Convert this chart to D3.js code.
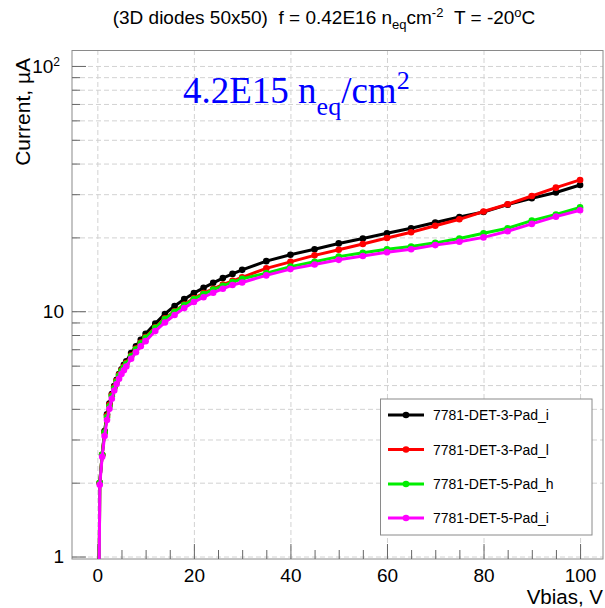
<!DOCTYPE html>
<html>
<head>
<meta charset="utf-8">
<script src="https://cdn.jsdelivr.net/npm/d3@7"></script>
<style>
  body { margin: 0; background: #fff; }
  text { font-family: "Liberation Sans", Arial, sans-serif; fill: #000; }
</style>
</head>
<body>
<script>
// bias voltage points (V)
const vbias = [0, 0.5, 1, 1.5, 2, 2.5, 3, 3.5, 4, 4.5, 5, 5.5, 6, 7, 8, 9, 10,
  12, 14, 16, 18, 20, 22, 24, 26, 28, 30,
  35, 40, 45, 50, 55, 60, 65, 70, 75, 80, 85, 90, 95, 100];

// currents (uA)
const det3PadI = [0.05, 2.0, 2.6, 3.25, 3.8, 4.2, 4.6, 4.95, 5.25, 5.55, 5.8, 6.05, 6.25, 6.75, 7.2, 7.65, 8.1,
  8.9, 9.75, 10.5, 11.2, 11.85, 12.45, 13.05, 13.65, 14.2, 14.75,
  16.0, 17.0, 17.9, 18.9, 19.8, 20.8, 21.8, 23.0, 24.2, 25.4, 27.2, 28.9, 30.5, 32.7];
const det3PadL = [0.05, 2.0, 2.6, 3.2, 3.75, 4.15, 4.55, 4.9, 5.2, 5.5, 5.75, 5.95, 6.15, 6.6, 7.05, 7.45, 7.85,
  8.6, 9.35, 10.0, 10.65, 11.3, 11.85, 12.35, 12.85, 13.3, 13.75,
  14.95, 15.9, 16.9, 17.8, 18.8, 19.9, 21.0, 22.3, 23.7, 25.5, 27.3, 29.5, 31.9, 34.3];
const det5PadH = [0.05, 2.0, 2.6, 3.2, 3.7, 4.1, 4.5, 4.85, 5.15, 5.45, 5.7, 5.9, 6.1, 6.55, 7.0, 7.4, 7.8,
  8.55, 9.3, 9.95, 10.6, 11.2, 11.75, 12.25, 12.7, 13.15, 13.55,
  14.3, 15.2, 15.9, 16.7, 17.3, 17.9, 18.35, 19.0, 19.8, 20.8, 21.8, 23.4, 24.8, 26.5];
const det5PadI = [0.05, 1.96, 2.55, 3.1, 3.6, 4.0, 4.4, 4.75, 5.05, 5.3, 5.55, 5.75, 5.95, 6.4, 6.8, 7.2, 7.55,
  8.3, 9.0, 9.65, 10.3, 10.9, 11.4, 11.9, 12.35, 12.8, 13.1,
  14.0, 14.85, 15.5, 16.2, 16.8, 17.4, 17.9, 18.6, 19.2, 20.0, 21.2, 22.7, 24.3, 25.8];

const seriesNames = ["7781-DET-3-Pad_i", "7781-DET-3-Pad_l", "7781-DET-5-Pad_h", "7781-DET-5-Pad_i"];
const seriesColors = ["#000000", "#ff0000", "#00ee00", "#ff00ff"];
const seriesValues = [det3PadI, det3PadL, det5PadH, det5PadI];

const xMajor = [0, 20, 40, 60, 80, 100];
const xMinor = [5, 10, 15, 25, 30, 35, 45, 50, 55, 65, 70, 75, 85, 90, 95];
const yMajor = [1, 10, 100];
const yMinor = [2, 3, 4, 5, 6, 7, 8, 9, 20, 30, 40, 50, 60, 70, 80, 90];

const W = 605, H = 608;
const frame = { left: 72, right: 603, top: 50.5, bottom: 559 };

const svg = d3.select("body").append("svg")
  .attr("width", W)
  .attr("height", H);

const x = d3.scaleLinear().domain([-5.25, 104.75]).range([frame.left, frame.right]);
const y = d3.scaleLog().domain([0.977, 115.6]).range([frame.bottom, frame.top]);

const fw = frame.right - frame.left, fh = frame.bottom - frame.top;

// grid
const gridStyle = (g) => {
  g.select(".domain").remove();
  g.selectAll("line").attr("stroke", "#d2d2d2").attr("stroke-dasharray", "5,3");
};
svg.append("g")
  .attr("transform", `translate(0,${frame.bottom})`)
  .call(d3.axisBottom(x).tickValues(xMajor).tickSize(-fh).tickFormat(""))
  .call(gridStyle);
svg.append("g")
  .attr("transform", `translate(${frame.left},0)`)
  .call(d3.axisLeft(y).tickValues(yMajor.concat(yMinor)).tickSize(-fw).tickFormat(""))
  .call(gridStyle);

// frame
svg.append("rect")
  .attr("x", frame.left).attr("y", frame.top)
  .attr("width", fw).attr("height", fh)
  .attr("fill", "none").attr("stroke", "#8a8a8a");

// axes
const tickStyle = (g) => {
  g.select(".domain").remove();
  g.selectAll("line").attr("stroke", "#666");
  g.selectAll("text").attr("font-size", 19).attr("fill", "#000")
    .attr("font-family", '"Liberation Sans", Arial, sans-serif');
};
svg.append("g")
  .attr("transform", `translate(0,${frame.bottom})`)
  .call(d3.axisBottom(x).tickValues(xMajor).tickSize(-15).tickPadding(10).tickFormat(d3.format("d")))
  .call(tickStyle);
svg.append("g")
  .attr("transform", `translate(0,${frame.bottom})`)
  .call(d3.axisBottom(x).tickValues(xMinor).tickSize(-9).tickFormat(""))
  .call(tickStyle);

const yAx = svg.append("g")
  .attr("transform", `translate(${frame.left},0)`)
  .call(d3.axisLeft(y).tickValues(yMajor).tickSize(-14).tickPadding(8).tickFormat((d) => d === 100 ? "10" : String(d)))
  .call(tickStyle);
yAx.selectAll(".tick text").filter((d) => d === 100)
  .attr("x", -12)
  .append("tspan").attr("dy", "-0.55em").attr("font-size", 12).text("2");
svg.append("g")
  .attr("transform", `translate(${frame.left},0)`)
  .call(d3.axisLeft(y).tickValues(yMinor).tickSize(-8).tickFormat(""))
  .call(tickStyle);

// axis titles
svg.append("text")
  .attr("x", 603).attr("y", 604)
  .attr("text-anchor", "end")
  .attr("font-size", 20.5)
  .text("Vbias, V");
svg.append("text")
  .attr("transform", "translate(30,58) rotate(-90)")
  .attr("text-anchor", "end")
  .attr("font-size", 21)
  .text("Current, \u00b5A");

// title
const title = svg.append("text")
  .attr("x", 324).attr("y", 24)
  .attr("text-anchor", "middle")
  .attr("font-size", 19);
title.append("tspan").text("(3D diodes 50x50)\u00a0\u00a0f = 0.42E16 n");
title.append("tspan").attr("dy", 5).attr("font-size", 13).text("eq");
title.append("tspan").attr("dy", -5).text("cm");
title.append("tspan").attr("dy", -7).attr("font-size", 13).text("-2");
title.append("tspan").attr("dy", 7).text("\u00a0\u00a0T = -20");
title.append("tspan").attr("dy", -7).attr("font-size", 13).text("o");
title.append("tspan").attr("dy", 7).text("C");

// fluence label
const flu = svg.append("text")
  .attr("x", 183).attr("y", 102.7)
  .attr("font-size", 37)
  .style("font-family", '"Liberation Serif", "Times New Roman", serif')
  .style("fill", "#0000ff");
flu.append("tspan").text("4.2E15 n");
flu.append("tspan").attr("dy", 12).attr("font-size", 26).text("eq");
flu.append("tspan").attr("dy", -12).text("/cm");
flu.append("tspan").attr("dy", -14).attr("font-size", 26).text("2");

// curves
svg.append("clipPath").attr("id", "clip")
  .append("rect")
  .attr("x", frame.left).attr("y", frame.top)
  .attr("width", fw).attr("height", fh);

const plot = svg.append("g").attr("clip-path", "url(#clip)");
const line = d3.line()
  .x((d) => x(d[0]))
  .y((d) => y(d[1]));

seriesValues.forEach((vals, i) => {
  const pts = vbias.map((v, j) => [v, vals[j]]);
  const g = plot.append("g");
  g.append("path")
    .datum(pts)
    .attr("fill", "none")
    .attr("stroke", seriesColors[i])
    .attr("stroke-width", 3)
    .attr("d", line);
  g.selectAll("circle")
    .data(pts)
    .enter()
    .append("circle")
    .attr("cx", (d) => x(d[0]))
    .attr("cy", (d) => y(d[1]))
    .attr("r", 3.3)
    .attr("fill", seriesColors[i]);
});

// legend
const lg = svg.append("g");
lg.append("rect")
  .attr("x", 380.5).attr("y", 399)
  .attr("width", 211.5).attr("height", 136)
  .attr("fill", "#fff").attr("stroke", "#8a8a8a");
const rowY = [415, 449.5, 484, 518];
seriesNames.forEach((name, i) => {
  lg.append("line")
    .attr("x1", 388).attr("x2", 424)
    .attr("y1", rowY[i]).attr("y2", rowY[i])
    .attr("stroke", seriesColors[i]).attr("stroke-width", 3);
  lg.append("circle")
    .attr("cx", 406).attr("cy", rowY[i]).attr("r", 3.3)
    .attr("fill", seriesColors[i]);
  lg.append("text")
    .attr("x", 433).attr("y", rowY[i] + 5)
    .attr("font-size", 14)
    .text(name);
});
</script>
</body>
</html>
